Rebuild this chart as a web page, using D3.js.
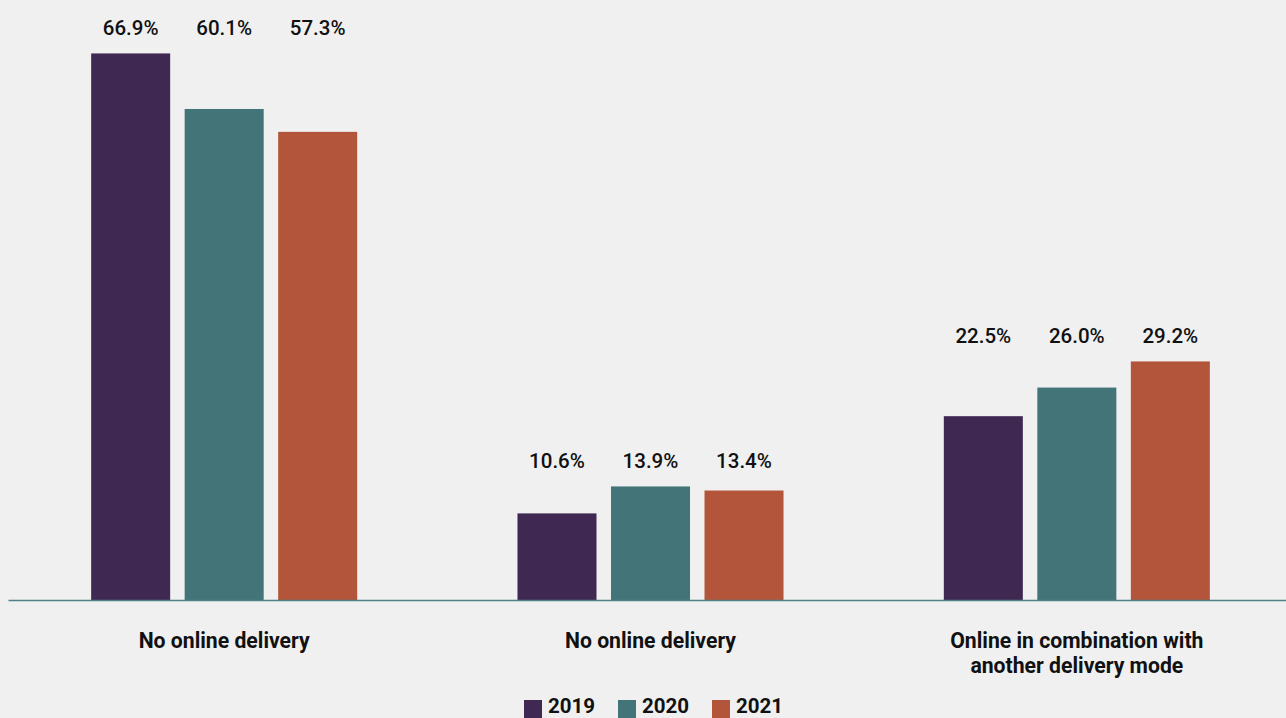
<!DOCTYPE html>
<html>
<head>
<meta charset="utf-8">
<script src="https://cdn.jsdelivr.net/npm/d3@7"></script>
<style>
  html, body { margin: 0; padding: 0; background: #f0f0f0; overflow: hidden; }
  svg { display: block; font-family: Roboto, "Noto Sans", sans-serif; }
</style>
</head>
<body>
<svg id="chart" width="1286" height="718"></svg>
<script>
const categories = [["No online delivery"], ["No online delivery"], ["Online in combination with", "another delivery mode"]];
const years = ["2019", "2020", "2021"];
const values2019 = [66.9, 10.6, 22.5];
const values2020 = [60.1, 13.9, 26.0];
const values2021 = [57.3, 13.4, 29.2];
const colors = ["#3f2851", "#437478", "#b3553a"];

const series = [values2019, values2020, values2021];
const svg = d3.select("#chart");

const x0 = d3.scaleBand().domain(d3.range(categories.length)).range([11, 1290]).paddingInner(0.376).paddingOuter(0.188);
const x1 = d3.scaleBand().domain(years).range([0, x0.bandwidth()]).paddingInner(0.155).paddingOuter(0);
const y = d3.scaleLinear().domain([0, 70]).range([600, 28.1]);

const groups = svg.selectAll("g.grp").data(categories.map((c, i) => ({ c, i, vals: series.map(s => s[i]) })))
  .enter().append("g").attr("class", "grp").attr("transform", d => `translate(${x0(d.i)},0)`);

groups.selectAll("rect").data(d => d.vals.map((v, k) => ({ v, k })))
  .enter().append("rect")
  .attr("x", d => x1(years[d.k]))
  .attr("width", x1.bandwidth())
  .attr("y", d => y(d.v))
  .attr("height", d => y(0) - y(d.v))
  .attr("fill", d => colors[d.k]);

groups.each(function(d) {
  const g = d3.select(this);
  const top = y(d3.max(d.vals)) - 18;
  d.vals.forEach((v, k) => {
    g.append("text")
      .attr("x", x1(years[k]) + x1.bandwidth() / 2)
      .attr("y", top)
      .attr("text-anchor", "middle")
      .attr("font-size", 20.5)
      .attr("font-weight", 500)
      .attr("fill", "#111")
      .text(v.toFixed(1) + "%");
  });
});

// axis baseline
const axis = d3.axisBottom(d3.scaleLinear().domain([0, 1]).range([8, 1286])).ticks(0).tickSize(0).tickFormat("");
const ax = svg.append("g").attr("transform", `translate(0,${y(0)})`).call(axis);
ax.select(".domain").attr("stroke", "#4d8187").attr("stroke-width", 1.5);

// category labels
groups.each(function(d) {
  const t = d3.select(this).append("text")
    .attr("x", x0.bandwidth() / 2)
    .attr("y", 648)
    .attr("text-anchor", "middle")
    .attr("font-size", 21.2)
    .attr("font-weight", 700)
    .attr("fill", "#111");
  d.c.forEach((line, j) => {
    t.append("tspan").attr("x", x0.bandwidth() / 2).attr("dy", j === 0 ? 0 : 25).text(line);
  });
});

// legend
const legend = svg.append("g");
const lx = [524, 618, 712];
years.forEach((yr, k) => {
  legend.append("rect").attr("x", lx[k]).attr("y", 700).attr("width", 18).attr("height", 18).attr("fill", colors[k]);
  legend.append("text").attr("x", lx[k] + 24).attr("y", 713).attr("font-size", 20.5).attr("font-weight", 700).attr("fill", "#111").text(yr);
});
</script>
</body>
</html>
